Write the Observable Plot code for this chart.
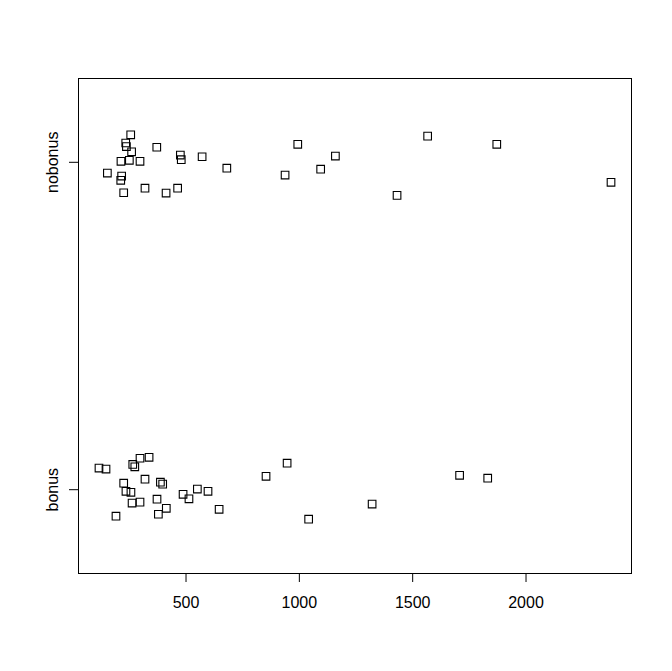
<!DOCTYPE html>
<html><head><meta charset="utf-8">
<script src="https://cdn.jsdelivr.net/npm/d3@7"></script>
<script src="https://cdn.jsdelivr.net/npm/@observablehq/plot@0.6"></script>
<style>body{margin:0;background:#fff}</style>
</head><body><div id="chart"></div>
<script>
const groups = ["bonus", "nobonus"];
const bonusValues = [116, 147, 265, 274, 297, 337, 225, 235, 257, 319, 387, 397, 262, 297, 372, 191, 378, 413, 487, 513, 550, 597, 646, 853, 946, 1041, 1707, 1831, 1321];
const bonusJitter = [0.066, 0.063, 0.077, 0.070, 0.096, 0.099, 0.020, -0.005, -0.008, 0.032, 0.023, 0.017, -0.041, -0.038, -0.029, -0.081, -0.075, -0.057, -0.014, -0.028, 0.002, -0.005, -0.060, 0.041, 0.081, -0.090, 0.044, 0.035, -0.044];
const nobonusValues = [256, 234, 237, 260, 371, 213, 250, 297, 475, 479, 571, 680, 153, 216, 212, 225, 319, 412, 463, 993, 1159, 937, 1094, 1566, 1871, 2375, 1431];
const nobonusJitter = [0.084, 0.059, 0.048, 0.032, 0.046, 0.003, 0.006, 0.003, 0.022, 0.008, 0.017, -0.018, -0.033, -0.042, -0.055, -0.093, -0.079, -0.094, -0.079, 0.055, 0.019, -0.039, -0.021, 0.080, 0.055, -0.061, -0.101];
const xTicks = [500, 1000, 1500, 2000];

const data = [
  ...bonusValues.map((v, i) => ({group: "bonus", value: v, pos: 1 + bonusJitter[i]})),
  ...nobonusValues.map((v, i) => ({group: "nobonus", value: v, pos: 2 + nobonusJitter[i]}))
];
const [lo, hi] = d3.extent(data, d => d.value);
const xpad = (hi - lo) * 0.04;
const yLim = [0.8, groups.length + 0.2];
const ypad = (yLim[1] - yLim[0]) * 0.04;

const chart = Plot.plot({
  width: 672, height: 671,
  marginTop: 78, marginBottom: 98, marginLeft: 78, marginRight: 41,
  style: {fontFamily: "'Liberation Sans', Arial, sans-serif", fontSize: "16px", background: "#fff", color: "#000", overflow: "visible"},
  x: {domain: [lo - xpad, hi + xpad]},
  y: {domain: [yLim[0] - ypad, yLim[1] + ypad]},
  marks: [
    Plot.frame({stroke: "#000", strokeWidth: 1}),
    Plot.axisX({ticks: xTicks, tickSize: 9, tickPadding: 14, label: null, tickFormat: d3.format("d"), fontSize: 16}),
    Plot.axisY({ticks: [1, 2], tickSize: 9, tickFormat: () => "", label: null}),
    Plot.text(groups, {y: (d, i) => i + 1, text: d => d, frameAnchor: "left", dx: -26, rotate: -90, fontSize: 16, textAnchor: "middle", lineAnchor: "middle", fill: "#000"}),
    Plot.dot(data, {x: "value", y: "pos", symbol: "square", r: 4.3, stroke: "#000", strokeWidth: 1.1, fill: "none"})
  ]
});
document.getElementById("chart").append(chart);
</script>
</body></html>
